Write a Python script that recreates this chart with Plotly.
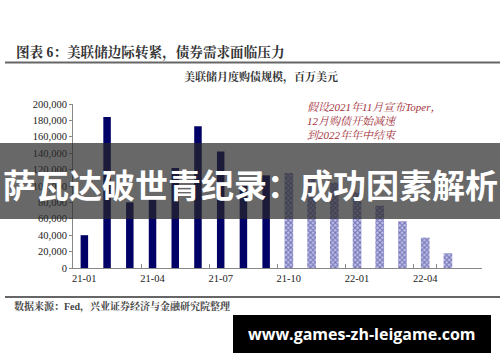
import plotly.graph_objects as go

# ---- data ----
months = ["21-01", "21-02", "21-03", "21-04", "21-05", "21-06", "21-07", "21-08", "21-09",
          "21-10", "21-11", "21-12", "22-01", "22-02", "22-03", "22-04", "22-05", "22-06"]
actual_months = months[0:9]
actual_vals = [40000, 184000, 80000, 85000, 122000, 173000, 142000, 101000, 113000]
plan_months = months[9:17]
plan_vals = [116000, 113000, 104000, 92000, 76000, 57000, 37000, 18000]
x_tick_labels = months[::3]
y_tick_vals = [0, 20000, 40000, 60000, 80000, 100000, 120000, 140000, 160000, 180000, 200000]

title_text = "图表 6：美联储边际转紧，债券需求面临压力"
subtitle_text = "美联储月度购债规模，百万美元"
note_lines = ["假设2021年11月宣布Toper，", "12月购债开始减速", "到2022年年中结束"]
source_text = "数据来源：Fed，兴业证券经济与金融研究院整理"
banner_text = "萨瓦达破世青纪录：成功因素解析"
watermark_text = "www.games-zh-leigame.com"

W, H = 500, 362
L, R, T, B = 73, 482, 104, 268


def px(x):
    return (x - L) / (R - L)


def py(y):
    return (B - y) / (B - T)


SERIF = "Liberation Serif, Noto Serif CJK SC, Noto Sans CJK SC, serif"
CJK = "Noto Sans CJK SC, sans-serif"

fig = go.Figure()
fig.add_trace(go.Bar(
    x=actual_months, y=actual_vals, width=0.33,
    marker=dict(color="#000066", line=dict(width=0)),
    showlegend=False, hoverinfo="skip",
))
fig.add_trace(go.Bar(
    x=plan_months, y=plan_vals, width=0.38,
    marker=dict(color="#c4c4ea", line=dict(width=0),
                pattern=dict(shape="x", fgcolor="#15157a", size=3.5, solidity=0.5)),
    showlegend=False, hoverinfo="skip",
))

fig.update_layout(
    width=W, height=H, autosize=False,
    margin=dict(l=L, r=W - R, t=T, b=H - B, pad=0),
    paper_bgcolor="white", plot_bgcolor="white",
    barmode="overlay",
    font=dict(family=SERIF, color="#222"),
    xaxis=dict(
        type="category", categoryorder="array", categoryarray=months,
        range=[-0.5, len(months) - 0.5],
        tickmode="array", tickvals=x_tick_labels, ticktext=x_tick_labels,
        tickson="boundaries", ticks="inside", ticklen=4, tickcolor="#888",
        tickangle=0,
        showline=True, linecolor="#888", linewidth=1,
        showgrid=False, zeroline=False,
        tickfont=dict(family=SERIF, size=10.5, color="#222"),
    ),
    yaxis=dict(
        range=[0, 200000], tickmode="array", tickvals=y_tick_vals,
        tickformat=",", ticks="outside", ticklen=3, tickcolor="#888",
        showline=True, linecolor="#888", linewidth=1,
        showgrid=False, zeroline=False,
        tickfont=dict(family=SERIF, size=10.5, color="#222"),
    ),
)

shapes = []
annos = []

# top title + rule
annos.append(dict(text="<b>" + title_text + "</b>", x=px(14), y=py(53), xref="paper", yref="paper",
                  xanchor="left", yanchor="middle", showarrow=False,
                  font=dict(family=SERIF, size=13.6, color="#333")))
shapes.append(dict(type="line", xref="paper", yref="paper", x0=px(5), x1=px(500), y0=py(62.5), y1=py(62.5),
                   line=dict(color="#666", width=2)))
# subtitle
annos.append(dict(text="<b>" + subtitle_text + "</b>", x=px(261), y=py(77), xref="paper", yref="paper",
                  xanchor="center", yanchor="middle", showarrow=False,
                  font=dict(family=SERIF, size=11, color="#333")))
# note
for i, line in enumerate(note_lines):
    annos.append(dict(text="<i>" + line + "</i>", x=px(305), y=py(107 + 14 * i), xref="paper", yref="paper",
                      xanchor="left", yanchor="middle", showarrow=False,
                      font=dict(family=SERIF, size=11, color="#a3303c")))
# bottom rule + source
shapes.append(dict(type="line", xref="paper", yref="paper", x0=px(5), x1=px(500), y0=py(297), y1=py(297),
                   line=dict(color="#666", width=2)))
annos.append(dict(text="<b>" + source_text + "</b>", x=px(12), y=py(306), xref="paper", yref="paper",
                  xanchor="left", yanchor="middle", showarrow=False,
                  font=dict(family=SERIF, size=10, color="#444")))

# banner overlay
shapes.append(dict(type="rect", xref="paper", yref="paper", x0=px(0), x1=px(500), y0=py(219), y1=py(143),
                   fillcolor="rgba(40,40,40,0.7)", line=dict(width=0), layer="above"))
annos.append(dict(text="<b>" + banner_text + "</b>", x=px(250), y=py(184), xref="paper", yref="paper",
                  xanchor="center", yanchor="middle", showarrow=False,
                  font=dict(family=CJK, size=33, color="white")))

# watermark box
shapes.append(dict(type="rect", xref="paper", yref="paper", x0=px(233), x1=px(491), y0=py(353), y1=py(315),
                   fillcolor="black", line=dict(width=0), layer="above"))
annos.append(dict(text="<b>" + watermark_text + "</b>", x=px(362), y=py(334), xref="paper", yref="paper",
                  xanchor="center", yanchor="middle", showarrow=False,
                  font=dict(family="Open Sans, sans-serif", size=16, color="white")))

fig.update_layout(shapes=shapes, annotations=annos)
fig.write_html("out.html", config={"displayModeBar": False},
               post_script="document.body.style.margin='0';")
